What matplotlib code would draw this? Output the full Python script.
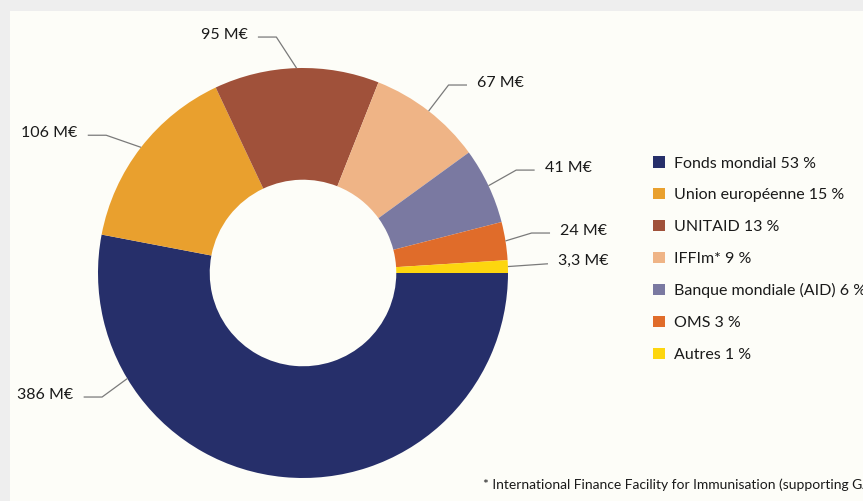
import numpy as np
import matplotlib.pyplot as plt
from matplotlib.patches import Rectangle

plt.rcParams['font.family'] = ['Lato', 'DejaVu Sans']

names = ['Fonds mondial', 'Union européenne', 'UNITAID', 'IFFIm*',
         'Banque mondiale (AID)', 'OMS', 'Autres']
amounts = [386, 106, 95, 67, 41, 24, 3.3]
amount_labels = ['386 M€', '106 M€', '95 M€', '67 M€', '41 M€', '24 M€', '3,3 M€']
shares = [53, 15, 13, 9, 6, 3, 1]
colors = ['#262f6a', '#e9a02e', '#a0513a', '#efb486', '#7a79a1', '#e06c2a', '#fdd60f']

# label layout (data units, radius = 1)
label_xy = [(-1.12, -0.605), (-1.10, 0.672), (-0.27, 1.151), (0.85, 0.917),
            (1.18, 0.502), (1.255, 0.195), (1.245, 0.045)]
anchor_angle = {0: 211}

W, H = 863, 501
fig = plt.figure(figsize=(W / 100, H / 100), dpi=100, facecolor='#eeeeee')
fig.patches.append(Rectangle((10 / W, 0), 1, 1 - 11 / H, transform=fig.transFigure,
                             facecolor='#fdfdf8', edgecolor='none', zorder=-10))

cx, cy, r = 303, 273, 205
ax = fig.add_axes([(cx - r) / W, (H - cy - r) / H, 2 * r / W, 2 * r / H])
ax.set_zorder(5)

# slices follow the rounded shares, as in the original
wedges, _ = ax.pie(shares, colors=colors, startangle=0, counterclock=False,
                   radius=1, wedgeprops=dict(width=0.545, edgecolor='none'))
ax.set_xlim(-1, 1)
ax.set_ylim(-1, 1)
ax.set_aspect('equal')
ax.axis('off')

for i, w in enumerate(wedges):
    ang = anchor_angle.get(i, (w.theta1 + w.theta2) / 2)
    a = np.deg2rad(ang)
    ax0, ay0 = np.cos(a), np.sin(a)
    tx, ty = label_xy[i]
    if tx < 0:
        x_end, x_elb = tx + 0.05, tx + 0.14
        ha = 'right'
    else:
        x_end, x_elb = tx - 0.05, tx - 0.14
        ha = 'left'
    if i == 6:
        x_elb = x_end
    ax.plot([ax0, x_elb, x_end], [ay0, ty, ty], color='#7a7a7a', lw=0.9,
            clip_on=False, solid_capstyle='butt')
    ax.text(tx, ty + 0.012, amount_labels[i], ha=ha, va='center', fontsize=11.5,
            color='#1a1a1a')

handles = wedges
labels = [f'{n} {s} %' for n, s in zip(names, shares)]
fig.legend(handles, labels, loc='upper left', bbox_to_anchor=(639 / W, 1 - 142 / H),
           frameon=False, fontsize=11.5, handlelength=0.7, handleheight=0.7,
           handletextpad=0.6, labelspacing=1.1, labelcolor='#1a1a1a')

fig.text(483 / W, 1 - 485 / H,
         '* International Finance Facility for Immunisation (supporting GAVI)',
         fontsize=10, color='#1a1a1a', va='center', ha='left')

fig.savefig('out.png', dpi=100, facecolor=fig.get_facecolor())
